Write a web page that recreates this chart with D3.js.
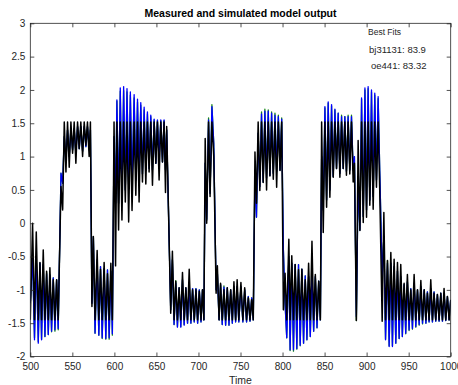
<!DOCTYPE html>
<html>
<head>
<meta charset="utf-8">
<script src="https://cdn.jsdelivr.net/npm/d3@7"></script>
<style>
  body { margin: 0; background: #fff; }
  svg { display: block; font-family: "Liberation Sans", Arial, Helvetica, sans-serif; }
</style>
</head>
<body>
<svg id="chart" width="458" height="385"></svg>
<script>
// turning points of the signals (time, value)
const time = [
  500,502.7,505,507.1,509.5,511.5,513.4,515.4,517.4,519.4,521.4,523.3,525.3,527.3,529.3,531.3,533.2,
  536.5,538.5,
  540.4,542.4,544.3,546.3,548.3,550.3,552.2,554.2,556.2,558.2,560.1,562.2,564.1,566.1,568,570,571.5,
  573.3,575,
  577,579.5,581.5,583.5,585.5,587.8,589.8,591.8,593.8,595.8,597.6,
  599.6,601.4,
  603,605,607,609,611,613,615,617,619,621,623.5,625.5,627.5,629.4,631.4,633.4,635.4,637.4,639.3,641.3,643.3,645.3,647.3,649.3,651.2,653.2,655.2,657.2,659.1,660.8,
  662.2,667,
  669,671,673,675,677,679,681,683,685,687,689,691,693,695,697,699,701,703,704.8,706.5,
  708,709.8,712,713.8,716,718.2,721,
  722.5,724.5,726.3,728.3,730.3,732.3,734.3,736.3,738.3,740.3,742.2,744.2,746,748,750.5,752.8,755,757.2,759.3,761.3,763.3,765.2,
  767.2,769,
  771,773,775,777,779,781,783,785,787,789,791,793,795,797,799,
  801,803,
  805,807.5,809,811,813,815,817,819,821,823,825,827,829,831,833,835,837,839,841,843,845,
  846.5,848.4,
  850.4,852.4,854.3,856.3,858.3,860.3,862.3,864.2,866.2,868.2,870.2,872.2,874.1,876,878,880,882,884,
  885.5,887.8,889.9,892,
  894,896,898,899.9,901.8,903.8,905.8,907.8,909.7,911.7,913.7,915.5,
  918.5,920.5,
  922.5,924.8,926.8,928.8,930.7,932.7,934.7,936.7,938.7,940.6,942.5,944.6,946.5,948.5,950.5,952.5,954.5,956.5,958.5,960.5,
  962.5,964.5,966.5,968.5,970.5,972.3,974.3,976.3,978.3,980.2,982.2,984.2,986.2,988.2,990.2,992.1,994.1,996.1,998.1,1000
];

const measured = [
  -1.45,0,-1.45,-0.13,-1.45,-0.59,-1.45,-0.4,-1.45,-0.72,-1.45,-0.67,-1.45,-0.85,-1.45,-0.85,-1.45,
  0.55,0.2,
  1.52,0.77,1.52,0.84,1.52,1.05,1.52,0.9,1.52,1.12,1.52,1.0,1.52,1.17,1.52,1.0,1.52,
  -1.25,-0.2,
  -1.45,-0.41,-1.45,-0.69,-1.45,-0.59,-1.45,-0.76,-1.45,-0.6,-1.45,
  1.52,-0.64,
  1.52,-0.1,1.52,0.05,1.52,0.32,1.52,0.02,1.52,0.19,1.52,0.42,1.52,0.32,1.52,0.62,1.52,0.59,1.52,0.77,1.52,0.57,1.52,0.9,1.52,0.65,1.52,0.92,1.52,0.46,
  1.45,-1.35,
  -0.42,-1.45,-0.87,-1.45,-0.97,-1.45,-0.74,-1.45,-0.97,-1.45,-0.69,-1.45,-1.0,-1.45,-1.0,-1.45,-1.02,-1.45,-1.0,-1.45,
  1.27,0,1.52,0.4,1.52,1.0,-1.05,
  -0.64,-1.45,-0.9,-1.45,-1.0,-1.45,-0.97,-1.45,-1.0,-1.45,-0.88,-1.45,-0.85,-1.45,-0.89,-1.45,-0.97,-1.45,-1.12,-1.45,-1.15,-1.45,
  1.07,0.3,
  1.52,0.49,1.52,0.61,1.52,0.5,1.52,0.71,1.52,0.66,1.52,0.54,1.52,0.79,1.52,
  -1.3,-0.75,
  -1.45,-0.24,-1.45,-0.49,-1.45,-0.62,-1.45,-0.7,-1.45,-0.69,-1.45,-0.85,-1.45,-0.6,-1.45,-0.27,-1.45,-0.77,-1.45,-0.87,-1.45,
  1.52,-0.14,
  1.52,0.24,1.52,0.39,1.52,0.69,1.52,0.82,1.52,0.69,1.52,0.82,1.52,0.72,1.52,0.74,1.52,0.62,
  0.9,-1.46,1.24,-0.11,
  1.52,0.01,1.52,0.09,1.52,0.27,1.52,0.21,1.52,0.54,1.52,0.55,
  -1.47,0.16,
  -1.45,-0.56,-1.45,-0.44,-1.45,-0.54,-1.45,-0.59,-1.45,-0.62,-1.45,-0.9,-1.45,-0.77,-1.45,-1.0,-1.45,-0.77,-1.45,-1.0,
  -1.45,-0.86,-1.45,-1.0,-1.45,-1.05,-1.45,-0.85,-1.45,-1.05,-1.45,-1.07,-1.45,-1.05,-1.45,-0.98,-1.45,-1.1,-1.45,-1.15
];

const oe441 = [
  -1.2,-0.5,-1.75,-0.52,-1.8,-0.6,-1.75,-0.62,-1.7,-0.76,-1.67,-0.78,-1.62,-0.82,-1.6,-0.85,-1.58,
  0.75,0.6,
  1.3,0.95,1.4,1.0,1.42,1.1,1.42,1.05,1.45,1.12,1.45,1.08,1.45,1.15,1.45,1.1,1.4,
  -1.2,-0.2,
  -1.65,-0.55,-1.68,-0.65,-1.72,-0.68,-1.73,-0.7,-1.72,-0.72,-1.66,
  1.3,0.3,
  1.85,0.3,2.03,0.45,2.05,0.5,2.02,0.55,1.97,0.6,1.93,0.65,1.86,0.72,1.81,0.74,1.74,0.79,1.67,0.82,1.62,0.8,1.56,0.9,1.55,0.97,1.55,0.92,1.55,0.8,
  1.4,-1.3,
  -0.55,-1.52,-0.9,-1.56,-0.97,-1.56,-0.85,-1.53,-0.97,-1.5,-0.9,-1.5,-0.98,-1.48,-0.98,-1.5,-1.0,-1.48,-1.0,-1.45,
  0.9,0.05,1.55,0.45,1.75,1.2,-1.0,
  -0.75,-1.45,-0.92,-1.52,-0.96,-1.53,-0.97,-1.53,-1.0,-1.5,-0.95,-1.48,-0.95,-1.48,-0.95,-1.48,-1.0,-1.48,-1.1,-1.47,-1.12,-1.45,
  0.8,0.09,
  1.35,0.55,1.64,0.62,1.68,0.68,1.68,0.72,1.65,0.75,1.62,0.78,1.6,0.8,1.56,
  -0.4,-1.2,
  -1.72,-0.5,-1.9,-0.6,-1.9,-0.62,-1.88,-0.62,-1.83,-0.69,-1.8,-0.79,-1.75,-0.8,-1.7,-0.78,-1.62,-0.8,-1.57,-0.87,-1.45,
  1.0,0.2,
  1.75,0.35,1.82,0.5,1.78,0.7,1.71,0.82,1.65,0.75,1.6,0.82,1.6,0.78,1.6,0.8,1.6,0.8,
  1.0,-1.4,0.6,-0.1,
  1.88,0.1,2.03,0.2,2.05,0.35,2.0,0.4,1.95,0.65,1.9,0.85,
  -0.8,-0.2,
  -1.75,-0.6,-1.85,-0.6,-1.85,-0.65,-1.8,-0.72,-1.73,-0.8,-1.7,-0.92,-1.65,-0.88,-1.6,-0.98,-1.58,-0.9,-1.55,-1.0,
  -1.52,-0.95,-1.5,-1.0,-1.5,-1.03,-1.48,-0.98,-1.48,-1.03,-1.47,-1.07,-1.47,-1.05,-1.47,-1.05,-1.46,-1.1,-1.45,-1.15
];

const bj31131 = [
  -1.2,-0.5,-1.72,-0.52,-1.78,-0.6,-1.74,-0.62,-1.7,-0.74,-1.67,-0.77,-1.63,-0.82,-1.62,-0.85,-1.6,
  0.75,0.6,
  1.3,0.95,1.4,1.0,1.42,1.1,1.42,1.05,1.45,1.12,1.45,1.08,1.45,1.15,1.45,1.1,1.4,
  -1.2,-0.2,
  -1.65,-0.55,-1.68,-0.65,-1.73,-0.68,-1.74,-0.7,-1.74,-0.72,-1.68,
  1.3,0.3,
  1.83,0.3,1.98,0.45,1.99,0.5,1.97,0.55,1.92,0.6,1.88,0.65,1.82,0.72,1.77,0.74,1.7,0.79,1.64,0.82,1.6,0.8,1.55,0.9,1.54,0.97,1.54,0.92,1.54,0.8,
  1.4,-1.3,
  -0.55,-1.52,-0.86,-1.55,-0.97,-1.55,-0.85,-1.52,-0.97,-1.5,-0.9,-1.5,-0.98,-1.48,-0.98,-1.5,-1.0,-1.48,-1.0,-1.45,
  0.9,0.05,1.58,0.45,1.78,1.2,-1.0,
  -0.75,-1.45,-0.92,-1.52,-0.94,-1.53,-0.97,-1.53,-1.0,-1.5,-0.95,-1.48,-0.95,-1.48,-0.95,-1.48,-1.0,-1.48,-1.1,-1.47,-1.12,-1.45,
  0.8,0.09,
  1.35,0.55,1.67,0.62,1.71,0.68,1.7,0.72,1.67,0.75,1.65,0.78,1.62,0.8,1.58,
  -0.4,-1.2,
  -1.72,-0.5,-1.91,-0.6,-1.92,-0.62,-1.89,-0.62,-1.84,-0.69,-1.8,-0.79,-1.75,-0.8,-1.7,-0.78,-1.62,-0.8,-1.57,-0.87,-1.45,
  1.0,0.2,
  1.73,0.35,1.8,0.5,1.76,0.7,1.7,0.82,1.65,0.75,1.62,0.82,1.6,0.78,1.62,0.8,1.62,0.8,
  1.0,-1.46,0.6,-0.1,
  1.86,0.1,2.0,0.2,2.02,0.35,1.97,0.4,1.92,0.65,1.87,0.87,
  -0.8,-0.2,
  -1.74,-0.56,-1.84,-0.6,-1.84,-0.65,-1.8,-0.72,-1.73,-0.8,-1.7,-0.92,-1.66,-0.88,-1.61,-0.98,-1.59,-0.9,-1.56,-1.0,
  -1.53,-0.95,-1.51,-1.0,-1.5,-1.03,-1.48,-0.98,-1.48,-1.03,-1.47,-1.07,-1.47,-1.05,-1.47,-1.05,-1.46,-1.1,-1.45,-1.15
];

const legendTitle = "Best Fits";
const fitLabels = ["bj31131: 83.9", "oe441: 83.32"];
const xTicks = [500, 550, 600, 650, 700, 750, 800, 850, 900, 950, 1000];
const yTicks = [-2, -1.5, -1, -0.5, 0, 0.5, 1, 1.5, 2, 2.5, 3];

const svg = d3.select("#chart");
const box = { left: 30.3, right: 450.7, top: 23.3, bottom: 356.5 };
const axisColor = "#262626";

const x = d3.scaleLinear().domain([500, 1000]).range([box.left, box.right]);
const y = d3.scaleLinear().domain([-2, 3]).range([box.bottom, box.top]);

svg.append("defs").append("clipPath").attr("id", "plotClip")
  .append("rect")
  .attr("x", box.left).attr("y", box.top)
  .attr("width", box.right - box.left).attr("height", box.bottom - box.top);

// signals: bj under oe under measured
const line = d3.line().x(d => x(d[0])).y(d => y(d[1]));
const series = [
  { values: bj31131, color: "#1a8a1a", width: 1.3 },
  { values: oe441, color: "#0000ff", width: 1.3 },
  { values: measured, color: "#000000", width: 1.5 }
];
const plot = svg.append("g").attr("clip-path", "url(#plotClip)");
series.forEach(s => {
  plot.append("path")
    .datum(time.map((t, i) => [t, s.values[i]]))
    .attr("d", line)
    .attr("fill", "none")
    .attr("stroke", s.color)
    .attr("stroke-width", s.width)
    .attr("stroke-linejoin", "round");
});

// axes with inward ticks on all four sides
function styleAxis(g) {
  g.select(".domain").remove();
  g.selectAll(".tick line").attr("stroke", axisColor).attr("stroke-width", 0.8);
  g.selectAll(".tick text").attr("fill", axisColor).style("font-size", "10px");
}
svg.append("g").attr("transform", `translate(0,${box.bottom})`)
  .call(d3.axisBottom(x).tickValues(xTicks).tickSize(-4).tickPadding(6).tickFormat(d3.format("d")))
  .call(styleAxis);
svg.append("g").attr("transform", `translate(0,${box.top})`)
  .call(d3.axisTop(x).tickValues(xTicks).tickSize(-4).tickFormat(""))
  .call(styleAxis);
svg.append("g").attr("transform", `translate(${box.left},0)`)
  .call(d3.axisLeft(y).tickValues(yTicks).tickSize(-4).tickPadding(5).tickFormat(d => String(d)))
  .call(styleAxis);
svg.append("g").attr("transform", `translate(${box.right},0)`)
  .call(d3.axisRight(y).tickValues(yTicks).tickSize(-4).tickFormat(""))
  .call(styleAxis);

svg.append("rect")
  .attr("x", box.left).attr("y", box.top)
  .attr("width", box.right - box.left).attr("height", box.bottom - box.top)
  .attr("fill", "none").attr("stroke", axisColor).attr("stroke-width", 0.8);

// title and axis label
svg.append("text")
  .attr("x", (box.left + box.right) / 2).attr("y", 17)
  .attr("text-anchor", "middle")
  .style("font-size", "10.5px").style("font-weight", "bold")
  .attr("fill", "#000")
  .text("Measured and simulated model output");

svg.append("text")
  .attr("x", (box.left + box.right) / 2).attr("y", 384)
  .attr("text-anchor", "middle")
  .style("font-size", "10.5px")
  .attr("fill", axisColor)
  .text("Time");

// fit legend (text only)
svg.append("text")
  .attr("x", 368).attr("y", 35)
  .style("font-size", "8.5px")
  .attr("fill", axisColor)
  .text(legendTitle);
svg.selectAll(".fit")
  .data(fitLabels)
  .enter().append("text")
  .attr("class", "fit")
  .attr("x", (d, i) => 369 + i * 2)
  .attr("y", (d, i) => 53 + i * 16)
  .style("font-size", "9.5px")
  .attr("fill", axisColor)
  .text(d => d);
</script>
</body>
</html>
